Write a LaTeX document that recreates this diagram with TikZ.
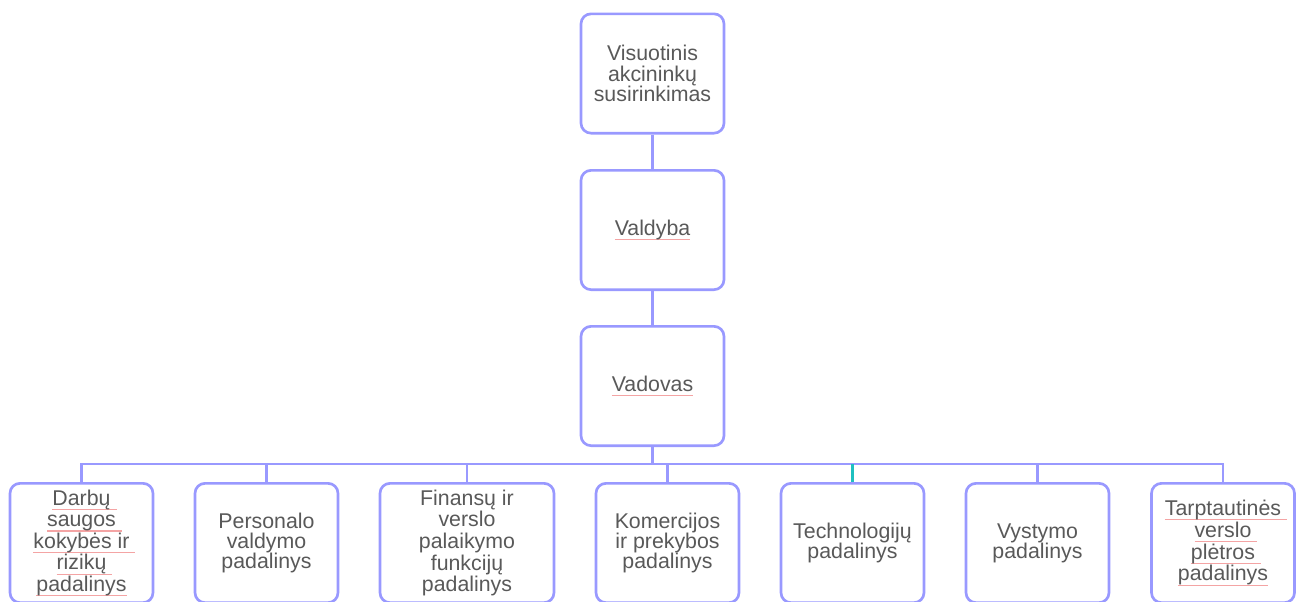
\documentclass[tikz,border=0pt]{standalone}
\usepackage{fontspec}
\setmainfont{Liberation Sans}
\definecolor{boxline}{HTML}{9999FF}
\definecolor{txt}{HTML}{595959}
\definecolor{squig}{HTML}{F4A4A4}
\definecolor{tealline}{HTML}{1FC0C0}
\newcommand\sq[1]{\setbox0\hbox{#1}\rlap{\textcolor{squig}{\raisebox{-3.8pt}{\rule{\wd0}{0.9pt}}}}\box0}
\newcommand\sqs[1]{\setbox0\hbox{#1}\rlap{\textcolor{squig}{\raisebox{-3.8pt}{\rule{\dimexpr\wd0+0.28em\relax}{0.9pt}}}}\box0}
\tikzset{
  orgbox/.style={draw=boxline, line width=2pt, rounded corners=7.5pt, fill=white,
    minimum width=107.25pt, minimum height=89.5pt, inner sep=0pt, align=center,
    text=txt, font=\fontsize{16pt}{15.2pt}\selectfont},
  widebox/.style={orgbox, minimum width=130.5pt},
  tall/.style={font=\fontsize{16pt}{16.2pt}\selectfont},
  conn/.style={draw=boxline, line width=2pt},
}
\begin{document}
\begin{tikzpicture}[x=0.75pt,y=-0.75pt]
\useasboundingbox (0,0) rectangle (1297,601);
\node[orgbox] (vas) at (652.5,73.5) {Visuotinis\\akcininkų\\susirinkimas};
\node[orgbox] (val) at (652.5,230) {\sq{Valdyba}};
\node[orgbox] (vad) at (652.5,386) {\sq{Vadovas}};
\coordinate (bar) at (0,464);
\node[orgbox,tall] (c1) at (81.5,543) {\sqs{Darbų}\\\sqs{saugos}\\\sqs{kokybės ir}\\\sqs{rizikų}\\\sq{padalinys}};
\node[orgbox] (c2) at (266.5,543) {Personalo\\valdymo\\padalinys};
\node[widebox,tall] (c3) at (467,543) {Finansų ir\\verslo\\palaikymo\\funkcijų\\padalinys};
\node[orgbox] (c4) at (667.5,543) {Komercijos\\ir prekybos\\padalinys};
\node[orgbox] (c5) at (852.5,543) {Technologijų\\padalinys};
\node[orgbox] (c6) at (1037.5,543) {Vystymo\\padalinys};
\node[orgbox] (c7) at (1223,543) {\sqs{Tarptautinės}\\\sqs{verslo}\\\sqs{plėtros}\\\sq{padalinys}};
\draw[conn] (vas.south) -- (val.north);
\draw[conn] (val.south) -- (vad.north);
\foreach \c in {c1,c2,c3,c4,c6,c7}{
  \draw[conn] (vad.south) -- (vad.south |- bar) -| (\c.north);
}
\draw[conn] (vad.south |- bar) -- (c5.north |- bar);
\draw[draw=tealline, line width=2pt] (c5.north |- bar) -- (c5.north);
\end{tikzpicture}
\end{document}
